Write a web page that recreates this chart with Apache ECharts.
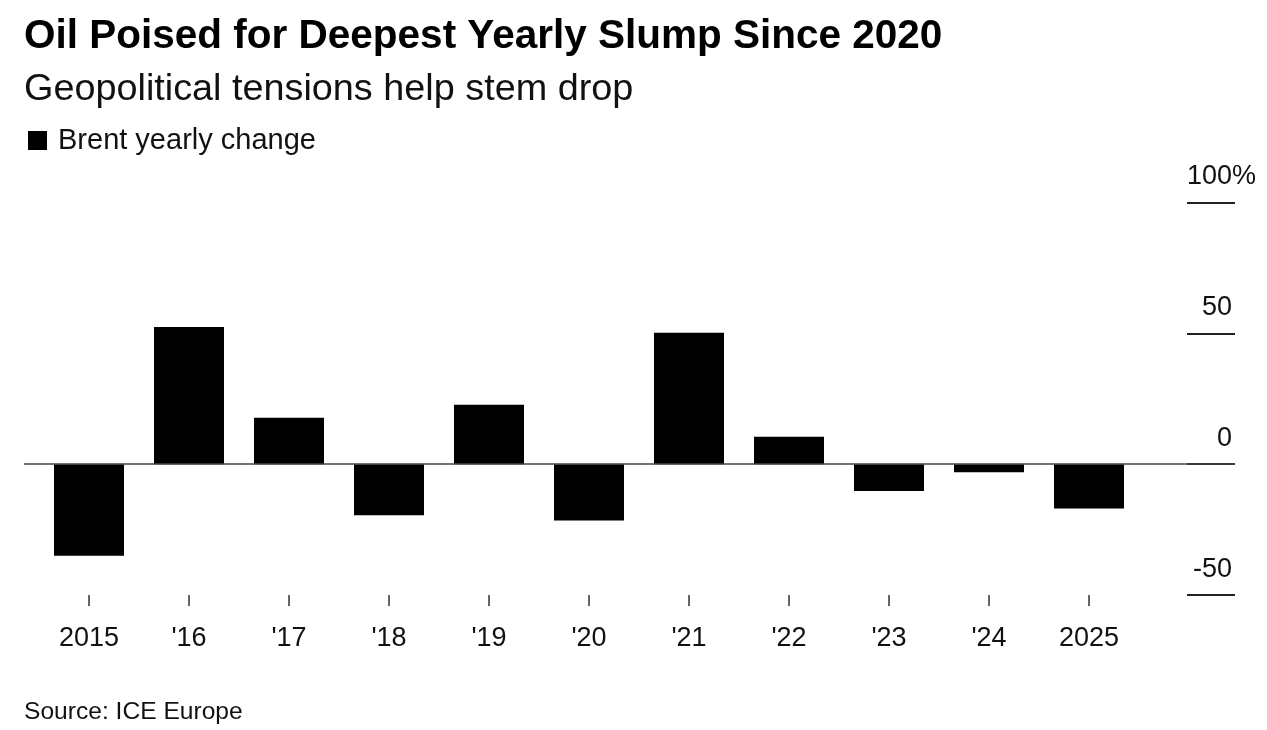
<!DOCTYPE html>
<html>
<head>
<meta charset="utf-8">
<script src="https://cdn.jsdelivr.net/npm/echarts@6/dist/echarts.min.js"></script>
<style>
html,body{margin:0;padding:0;background:#fff;}
#chart{width:1267px;height:730px;}
</style>
</head>
<body>
<div id="chart"></div>
<script>
// ---- data ----
const years = [2015, 2016, 2017, 2018, 2019, 2020, 2021, 2022, 2023, 2024, 2025];
const yearLabels = ['2015', "'16", "'17", "'18", "'19", "'20", "'21", "'22", "'23", "'24", '2025'];
const brentChange = [-35.0, 52.4, 17.7, -19.5, 22.7, -21.5, 50.2, 10.5, -10.3, -3.1, -16.9];
const yTicks = [-50, 0, 50, 100];

const titleText = 'Oil Poised for Deepest Yearly Slump Since 2020';
const subtitleText = 'Geopolitical tensions help stem drop';
const seriesName = 'Brent yearly change';
const sourceText = 'Source: ICE Europe';

const FONT = '"Liberation Sans", Arial, Helvetica, sans-serif';

const chart = echarts.init(document.getElementById('chart'), null, {renderer: 'canvas'});

const labelMap = {};
years.forEach((y, i) => { labelMap[y] = yearLabels[i]; });

const option = {
  backgroundColor: '#ffffff',
  animation: false,
  textStyle: {fontFamily: FONT},
  title: [
    {
      text: titleText,
      subtext: subtitleText,
      left: 24, top: 16, padding: 0, itemGap: 14,
      textStyle: {fontSize: 40.5, fontWeight: 'bold', color: '#000', fontFamily: FONT},
      subtextStyle: {fontSize: 37.8, color: '#111', fontFamily: FONT}
    },
    {
      text: sourceText,
      left: 24, top: 700, padding: 0,
      textStyle: {fontSize: 24.6, fontWeight: 'normal', color: '#111', fontFamily: FONT}
    }
  ],
  legend: {
    left: 28, top: 126, padding: 0,
    icon: 'rect', itemWidth: 19, itemHeight: 19,
    selectedMode: false,
    data: [seriesName],
    textStyle: {fontSize: 29, color: '#111', fontFamily: FONT, padding: [0, 0, 0, 6]}
  },
  grid: {left: 24, right: 32, top: 202.5, bottom: 135, containLabel: false},
  xAxis: {
    type: 'value',
    min: 2014.35, max: 2026.46,
    position: 'bottom',
    axisLine: {show: false, onZero: false},
    splitLine: {show: false},
    axisTick: {show: true, customValues: years, length: 11, lineStyle: {color: '#333', width: 1.5}},
    axisLabel: {
      customValues: years,
      margin: 30,
      fontSize: 27, color: '#111', fontFamily: FONT,
      formatter: v => labelMap[Math.round(v)] || ''
    }
  },
  yAxis: [
    {
      type: 'value', position: 'right',
      min: -50, max: 100, interval: 50,
      axisLine: {show: false},
      splitLine: {show: false},
      axisTick: {show: true, inside: true, length: 48, lineStyle: {color: '#222', width: 2}},
      axisLabel: {
        inside: true, margin: 3, align: 'right',
        fontSize: 27, color: '#111', fontFamily: FONT,
        verticalAlign: 'bottom', lineHeight: 27, padding: [0, 0, 12, 0],
        formatter: v => (yTicks.indexOf(v) >= 0 ? String(v) : '')
      }
    },
    {
      type: 'value', position: 'right',
      min: -50, max: 100, interval: 50,
      axisLine: {show: false},
      splitLine: {show: false},
      axisTick: {show: false},
      axisLabel: {
        inside: false, margin: -3, align: 'left',
        fontSize: 27, color: '#111', fontFamily: FONT,
        verticalAlign: 'bottom', lineHeight: 27, padding: [0, 0, 12, 0],
        formatter: v => (v === 100 ? '%' : '')
      }
    }
  ],
  series: [
    {
      name: seriesName,
      type: 'bar',
      xAxisIndex: 0, yAxisIndex: 0,
      barWidth: 70,
      itemStyle: {color: '#000'},
      data: years.map((y, i) => [y, brentChange[i]]),
      markLine: {
        silent: true,
        symbol: ['none', 'none'],
        label: {show: false},
        lineStyle: {color: '#444', width: 1.5, type: 'solid'},
        data: [{yAxis: 0}]
      }
    }
  ]
};

chart.setOption(option);
</script>
</body>
</html>
